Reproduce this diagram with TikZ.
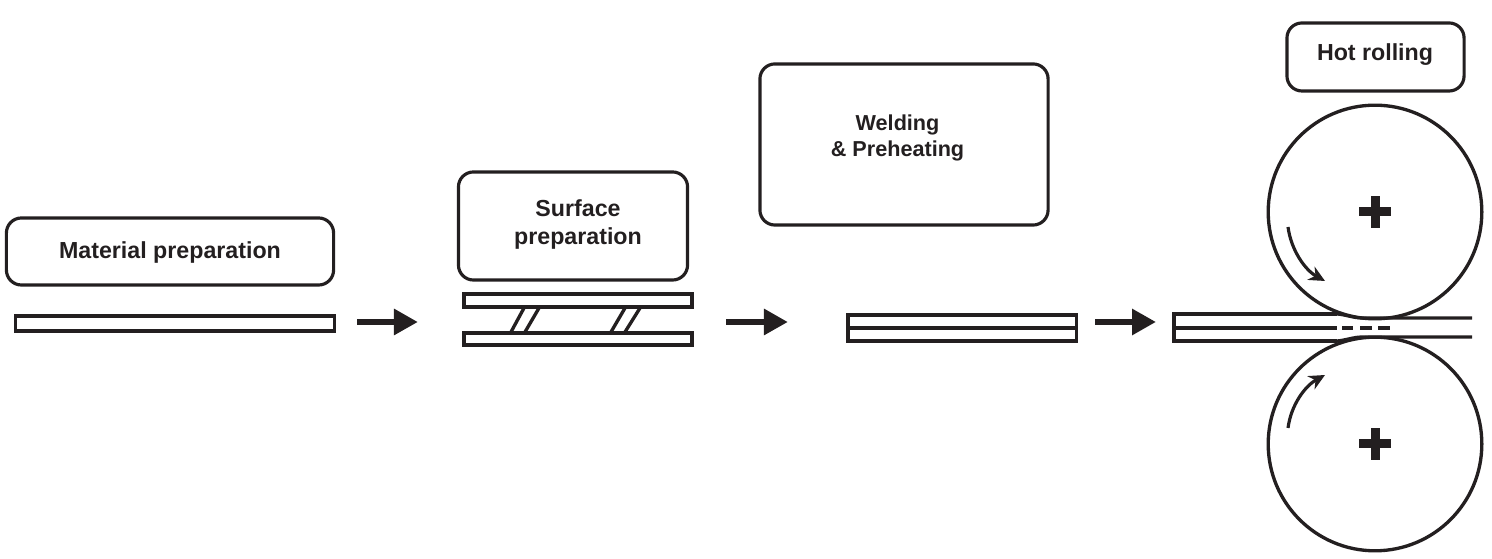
\documentclass[tikz,border=0pt]{standalone}
\usepackage{fontspec}
\setmainfont{Liberation Sans}
\usetikzlibrary{arrows.meta}
\definecolor{myblack}{HTML}{231F20}
\tikzset{
	procbox/.style={draw=myblack, line width=0.9pt, rounded corners=0.15cm, outer sep=0pt}
}
\tikzset{
	proclabel/.style={font=\fontsize{6.6}{7.7}\selectfont\bfseries, text=myblack, align=center, inner sep=0pt}
}
\tikzset{
	stripnode/.style={draw=myblack, line width=0.9pt, outer sep=0pt, inner sep=0pt}
}
\tikzset{
	flowarrow/.style={line width=1.7pt, draw=myblack, -{Triangle[length=0.24cm, width=0.25cm, fill=myblack]}}
}
\tikzset{
	turnarrow/.style={line width=0.9pt, draw=myblack, -{Stealth[length=0.16cm, width=0.15cm, fill=myblack]}}
}
\tikzset{
	rollnode/.style={circle, draw=myblack, line width=0.95pt, minimum size=2.135cm, outer sep=0pt, inner sep=0pt}
}
\tikzset{
	centermark/.pic={
			\fill[myblack] (-16,-4.5) rectangle (16,4.5);
			\fill[myblack] (-4.5,-16) rectangle (4.5,16);
		}
}

\begin{document}
\begin{tikzpicture}[x=0.01cm, y=-0.01cm]
			\useasboundingbox (0,0) rectangle (1492,559);

			\coordinate (flowline) at (0,322);

			\begin{scope}
				\node[procbox, minimum width=3.27cm, minimum height=0.67cm] (boxMaterial) at (170,251.5) {};
				\node[procbox, minimum width=2.29cm, minimum height=1.08cm] (boxSurface) at (573,226) {};
				\node[procbox, minimum width=2.88cm, minimum height=1.61cm] (boxWelding) at (904,144.5) {};
				\node[procbox, minimum width=1.77cm, minimum height=0.68cm] (boxHot) at (1375.5,57) {};

				\node[proclabel] (lMaterial) at (170,252.5) {Material preparation};
				\node[proclabel] (lSurface) at (578,224.5) {Surface\\[0.2pt]preparation};
				\node[proclabel, font=\fontsize{6.15}{7.5}\selectfont\bfseries] (lWelding) at (897.5,138) {Welding\\\& Preheating};
				\node[proclabel] (lHot) at (1375,54.5) {Hot rolling};
			\end{scope}

			\begin{scope}
				\node[stripnode, minimum width=3.18cm, minimum height=0.15cm] (stripA) at (175,323.5) {};

				\node[stripnode, minimum width=2.28cm, minimum height=0.13cm] (stripBtop) at (578,300.5) {};
				\node[stripnode, minimum width=2.28cm, minimum height=0.12cm] (stripBbot) at (578,339) {};
				\draw[line width=0.95pt, myblack] (524,308) -- (511,332);
				\draw[line width=0.95pt, myblack] (539,308) -- (525,332);
				\draw[line width=0.95pt, myblack] (625,308) -- (611,332);
				\draw[line width=0.95pt, myblack] (640,308) -- (625,332);

				\node[stripnode, minimum width=2.28cm, minimum height=0.26cm] (stripC) at (962,328) {};
				\draw[line width=0.9pt, myblack] (stripC.west) -- (stripC.east);
			\end{scope}

			\begin{scope}
				\node[rollnode] (rollTop) at (1375,212) {};
				\node[rollnode] (rollBot) at (1375,444) {};
				\pic at (rollTop) {centermark};
				\pic at (rollBot) {centermark};

				\coordinate (stripD) at (1174,328);
				\draw[line width=0.9pt, myblack] (1337,314) -- (stripD |- 0,314) -- (stripD |- 0,341) -- (1337,341);
				\draw[line width=0.9pt, myblack] (1337,314) .. controls (1347,315) and (1353,318) .. (1362,318) -- (1472,318);
				\draw[line width=0.9pt, myblack] (1337,341) .. controls (1347,340) and (1353,337) .. (1362,337) -- (1472,337);
				\draw[line width=1.1pt, myblack] (stripD) -- (1337,328);
				\draw[line width=1.1pt, myblack] (1342,328) -- (1353,328);
				\draw[line width=1.1pt, myblack] (1360,328) -- (1372,328);
				\draw[line width=1.1pt, myblack] (1378,328) -- (1390,328);

				\coordinate (turnTopS) at (1288,227);
				\coordinate (turnTopE) at (1325,281);
				\coordinate (turnBotS) at (1288,428);
				\coordinate (turnBotE) at (1325,375);
				\draw[turnarrow] (turnTopS) .. controls (1291,250) and (1305,270) .. (turnTopE);
				\draw[turnarrow] (turnBotS) .. controls (1291,405) and (1305,386) .. (turnBotE);
			\end{scope}

			\draw[flowarrow, shorten <=0.23cm, shorten >=0.46cm] (stripA.east |- flowline) -- (stripBbot.west |- flowline);
			\draw[flowarrow, shorten <=0.34cm, shorten >=0.6cm] (stripBbot.east |- flowline) -- (stripC.west |- flowline);
			\draw[flowarrow, shorten <=0.19cm, shorten >=0.18cm] (stripC.east |- flowline) -- (stripD |- flowline);

		\end{tikzpicture}
\end{document}
